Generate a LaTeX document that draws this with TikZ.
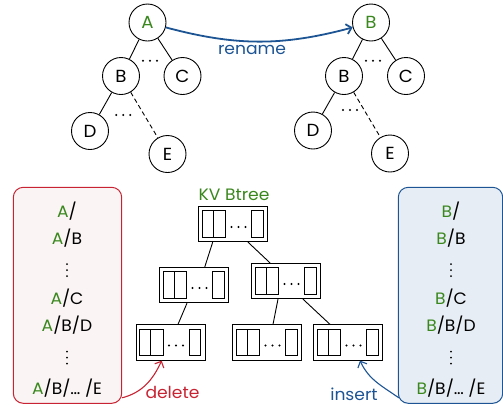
\documentclass[tikz,border=0pt]{standalone}
\usepackage{fontspec}
\setmainfont{Poppins}[FakeStretch=1.04]
\usetikzlibrary{arrows.meta,calc}
\definecolor{kgreen}{RGB}{58,135,30}
\definecolor{kblue}{RGB}{28,84,148}
\definecolor{kred}{RGB}{200,35,50}
\definecolor{redfill}{RGB}{250,244,244}
\definecolor{bluefill}{RGB}{231,237,244}
\newcommand\kvcells[1]{%
  \draw[cell] ($(#1.center)+(-30.7,-13.3)$) rectangle ($(#1.center)+(-19.7,13.3)$);
  \draw[cell] ($(#1.center)+(-19.7,-13.3)$) rectangle ($(#1.center)+(-7.3,13.3)$);
  \draw[cell] ($(#1.center)+(18.7,-13.3)$) rectangle ($(#1.center)+(30.3,13.3)$);
  \pic at ($(#1.center)+(5.5,3)$) {hdotz};
}
\begin{document}
\begin{tikzpicture}[x=1pt,y=-1pt,
  txt/.style={font=\fontsize{16.5}{20}\selectfont,inner sep=0pt},
  tnode/.style={circle,draw,line width=0.9pt,minimum size=37pt,inner sep=0pt,font=\fontsize{17.5}{20}\selectfont},
  bnode/.style={draw,line width=0.8pt,minimum width=69pt,minimum height=35.5pt,inner sep=0pt},
  cell/.style={draw,line width=0.8pt},
  edge/.style={line width=0.9pt},
  hdotz/.pic={\foreach \i in {-7,0,7} \fill (\i,0) circle (1.1pt);},
  vdotz/.pic={\foreach \i in {-6,0,6} \fill (0,\i) circle (1pt);},
  arr/.style={-{Straight Barb[length=5pt,width=10pt]}},
  listtxt/.style={txt,anchor=base},
]
\useasboundingbox (0,0) rectangle (503,408);

% left tree
\node[tnode] (A) at (147.5,22.5) {\textcolor{kgreen}{A}};
\node[tnode] (B) at (121,76) {B};
\node[tnode] (C) at (182.5,76) {C};
\node[tnode] (D) at (90,131) {D};
\node[tnode] (E) at (167.5,154) {E};
\draw[edge] (A) -- (B);
\draw[edge] (A) -- (C);
\draw[edge] (B) -- (D);
\draw[edge,dashed,dash pattern=on 4.5pt off 3pt] (B) -- (E);
\pic at (150,60.7) {hdotz};
\pic at (123.3,115) {hdotz};

% right tree
\node[tnode] (A2) at (371,22.5) {\textcolor{kgreen}{B}};
\node[tnode] (B2) at (344,76) {B};
\node[tnode] (C2) at (406,76) {C};
\node[tnode] (D2) at (313,130.5) {D};
\node[tnode] (E2) at (390,153.5) {E};
\draw[edge] (A2) -- (B2);
\draw[edge] (A2) -- (C2);
\draw[edge] (B2) -- (D2);
\draw[edge,dashed,dash pattern=on 4.5pt off 3pt] (B2) -- (E2);
\pic at (373,60.7) {hdotz};
\pic at (350,110) {hdotz};

% rename
\draw[kblue,line width=1.8pt,arr] (A) to[bend right=15] (A2);
\node[txt,text=kblue] (rn) at (252,49.5) {rename};

% B-tree
\node[txt,text=kgreen] (kv) at (234,195) {KV Btree};
\node[bnode] (r) at (233,224) {};
\node[bnode] (ml) at (194,285) {};
\node[bnode] (mr) at (286,281) {};
\node[bnode] (bl) at (170.5,342.5) {};
\node[bnode] (bm) at (267,342.5) {};
\node[bnode] (br) at (348,342.5) {};
\kvcells{r}\kvcells{ml}\kvcells{mr}\kvcells{bl}\kvcells{bm}\kvcells{br}
\draw[edge] ($(r.south)+(-20.3,0)$) -- ($(ml.north)+(10.8,0)$);
\draw[edge] ($(r.south)+(15,0)$) -- ($(mr.north)+(-16,0)$);
\draw[edge] ($(ml.south)+(-7,0)$) -- ($(bl.north)+(7.5,0)$);
\draw[edge] ($(mr.south)+(-8,0)$) -- ($(bm.north)+(6,0)$);
\draw[edge] ($(mr.south)+(17,0)$) -- ($(br.north)+(-18,0)$);

% left list
\node[draw=kred,fill=redfill,line width=1pt,rounded corners=10pt,minimum width=108.4pt,minimum height=216pt] (lbox) at (67.5,295.3) {};
\node[listtxt] (l1) at (67,217.7) {\textcolor{kgreen}{A}/};
\node[listtxt] (l2) at (67,244.3) {\textcolor{kgreen}{A}/B};
\pic at (67,270) {vdotz};
\node[listtxt] (l3) at (67,304.3) {\textcolor{kgreen}{A}/C};
\node[listtxt] (l4) at (67,331) {\textcolor{kgreen}{A}/B/D};
\pic at (67,357.5) {vdotz};
\node[listtxt] (l5) at (67,394.3) {\textcolor{kgreen}{A}/B/\ldots\ /E};

% right list
\node[draw=kblue,fill=bluefill,line width=1pt,rounded corners=10pt,minimum width=104.4pt,minimum height=216pt] (rbox) at (450.5,295.3) {};
\node[listtxt] (r1) at (451,217.7) {\textcolor{kgreen}{B}/};
\node[listtxt] (r2) at (451,244.3) {\textcolor{kgreen}{B}/B};
\pic at (451,270) {vdotz};
\node[listtxt] (r3) at (451,304.3) {\textcolor{kgreen}{B}/C};
\node[listtxt] (r4) at (451,331) {\textcolor{kgreen}{B}/B/D};
\pic at (451,357.5) {vdotz};
\node[listtxt] (r5) at (451,394.3) {\textcolor{kgreen}{B}/B/\ldots\ /E};

% delete / insert
\draw[kred,line width=1.1pt,arr] ($(lbox.south east)+(0,-6)$) to[out=15,in=245] ($(bl.south)+(-8.8,0)$);
\node[txt,text=kred] (del) at (172.5,392) {delete};
\draw[kblue,line width=1.1pt,arr] ($(rbox.south west)+(1,-6)$) to[out=145,in=-65] ($(br.south)+(12,0)$);
\node[txt,text=kblue] (ins) at (354,394) {insert};
\end{tikzpicture}
\end{document}
